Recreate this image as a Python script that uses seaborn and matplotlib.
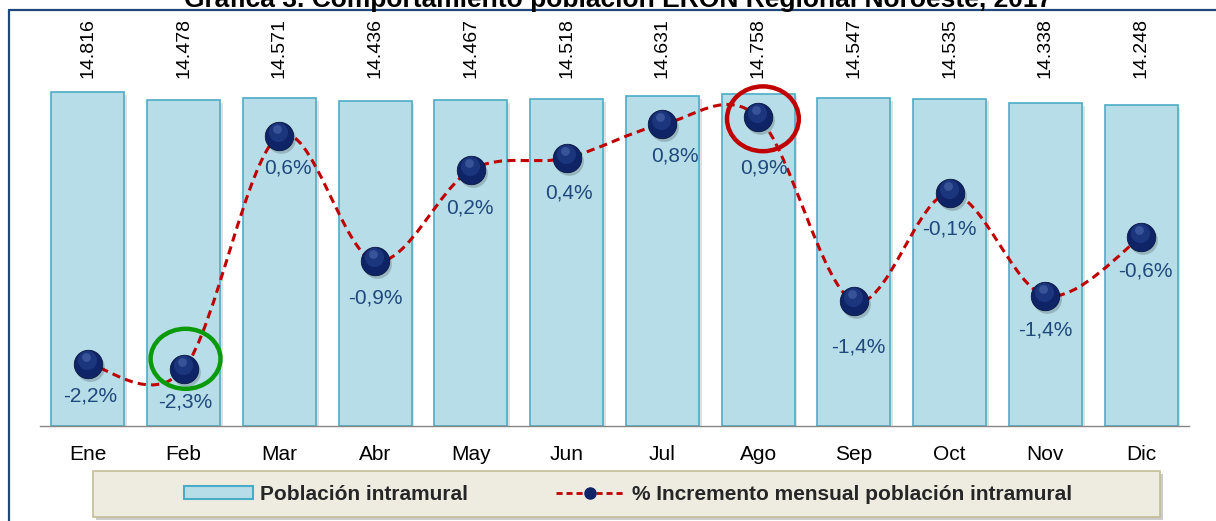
import numpy as np
import pandas as pd
import matplotlib
matplotlib.use("Agg")
import matplotlib.pyplot as plt
import seaborn as sns
from matplotlib.path import Path
from matplotlib.patches import PathPatch, Ellipse, Rectangle, Patch
from matplotlib.lines import Line2D
from matplotlib import transforms
import matplotlib.patheffects as pe

# ---------------- data ----------------
meses = ["Ene", "Feb", "Mar", "Abr", "May", "Jun", "Jul", "Ago", "Sep", "Oct", "Nov", "Dic"]
poblacion = [14816, 14478, 14571, 14436, 14467, 14518, 14631, 14758, 14547, 14535, 14338, 14248]
incremento = [-2.21, -2.28, 0.64, -0.93, 0.21, 0.36, 0.78, 0.87, -1.43, -0.08, -1.36, -0.63]
titulo = "Gráfica 3. Comportamiento población ERON Regional Noroeste, 2017"
leyenda_barras = "Población intramural"
leyenda_linea = "% Incremento mensual población intramural"

# ---------------- style ----------------
sns.set_theme(style="white")
plt.rcParams["font.family"] = ["Liberation Sans", "DejaVu Sans"]

W, H = 1216, 521
fig = plt.figure(figsize=(W / 100, H / 100), dpi=100)
fig.patch.set_facecolor("white")

ax_left, ax_right, ax_bottom, ax_top = 40, 1189, 426, 30
ax = fig.add_axes([ax_left / W, 1 - ax_bottom / H, (ax_right - ax_left) / W, (ax_bottom - ax_top) / H])

bar_face = "#B7DEE8"
bar_edge = "#4BACC6"
df = pd.DataFrame({"mes": meses, "pob": poblacion})
sns.barplot(data=df, x="mes", y="pob", color=bar_face, saturation=1, edgecolor=bar_edge,
            linewidth=1.2, width=0.76, ax=ax)
for p in ax.patches:
    p.set_path_effects([pe.SimplePatchShadow(offset=(2, -2), alpha=0.18, shadow_rgbFace="#555555"), pe.Normal()])

ax.set_xlim(-0.5, 11.5)
ax.set_ylim(0, 17580)
ax.set_xlabel("")
ax.set_ylabel("")
ax.set_yticks([])
for s in ["left", "right", "top"]:
    ax.spines[s].set_visible(False)
ax.spines["bottom"].set_color("#868686")
ax.spines["bottom"].set_linewidth(1.0)
ax.set_xticks(range(len(meses)))
ax.set_xticklabels(meses, fontsize=15, color="black")
ax.set_xticks(np.arange(-0.5, 12, 1.0), minor=True)
ax.tick_params(axis="x", which="major", length=0, pad=14)
ax.tick_params(axis="x", which="minor", length=5, width=1, color="#868686", direction="out")

# value labels at top (rotated)
blend = transforms.blended_transform_factory(ax.transData, fig.transFigure)
for i, v in enumerate(poblacion):
    ax.text(i, 1 - 78 / H, f"{v:,}".replace(",", "."), rotation=90, ha="center", va="bottom",
            fontsize=14, color="black", transform=blend)

# ---------------- secondary axis: line ----------------
ax2 = ax.twinx()
ax2.set_ylim(-2.99, 1.96)
ax2.set_yticks([])
for s in ["left", "right", "top", "bottom"]:
    ax2.spines[s].set_visible(False)
ax2.grid(False)
ax.grid(False)

xs = np.arange(len(incremento), dtype=float)
ys = np.array(incremento, dtype=float)
n = len(xs)
verts = [(xs[0], ys[0])]
codes = [Path.MOVETO]
for i in range(n - 1):
    i0 = max(i - 1, 0)
    i3 = min(i + 2, n - 1)
    c1 = (xs[i] + (xs[i + 1] - xs[i0]) / 6, ys[i] + (ys[i + 1] - ys[i0]) / 6)
    c2 = (xs[i + 1] - (xs[i3] - xs[i]) / 6, ys[i + 1] - (ys[i3] - ys[i]) / 6)
    verts += [c1, c2, (xs[i + 1], ys[i + 1])]
    codes += [Path.CURVE4] * 3
curve = PathPatch(Path(verts, codes), facecolor="none", edgecolor="#C00000", lw=2.2,
                  linestyle=(0, (2.7, 1.7)), zorder=3)
ax2.add_patch(curve)

navy = "#0F2466"
shadow_tr = transforms.offset_copy(ax2.transData, fig=fig, x=2, y=-3, units="dots")
ax2.scatter(xs, ys, s=430, color="#000000", alpha=0.18, linewidths=0, transform=shadow_tr, zorder=4)
sns.scatterplot(x=xs, y=ys, s=420, color=navy, edgecolor="#081640", linewidth=0.6, ax=ax2, zorder=5,
                legend=False)
hl1 = transforms.offset_copy(ax2.transData, fig=fig, x=-1, y=4, units="dots")
ax2.scatter(xs, ys, s=190, color="#2B4C9B", alpha=0.45, linewidths=0, transform=hl1, zorder=6)
hl2 = transforms.offset_copy(ax2.transData, fig=fig, x=-2, y=7, units="dots")
ax2.scatter(xs, ys, s=40, color="#6F8CCB", alpha=0.35, linewidths=0, transform=hl2, zorder=7)

# percentage labels
offsets = [(2, 32), (2, 33), (9, 32), (0, 37), (-1, 38), (2, 35), (13, 32), (6, 51), (4, 46), (0, 36), (0, 34), (4, 34)]
for i, v in enumerate(incremento):
    dx, dy = offsets[i]
    ax2.annotate(f"{v:.1f}".replace(".", ",") + "%", (xs[i], ys[i]), xytext=(dx, -dy),
                 textcoords="offset pixels", ha="center", va="center", fontsize=15,
                 color="#1F497D", zorder=8)

# highlight ellipses
ax2.add_patch(Ellipse((xs[1] + 0.02, ys[1] + 0.13), 0.73, 0.75, fill=False, edgecolor="#0A9A0A",
                      lw=3.2, zorder=9, clip_on=False))
ax2.add_patch(Ellipse((xs[7] + 0.05, ys[7] - 0.02), 0.75, 0.81, fill=False, edgecolor="#C00000",
                      lw=3.2, zorder=9, clip_on=False))

# ---------------- legend ----------------
lx0, lx1, ly0, ly1 = 93, 1160, 471, 517
fig.add_artist(Rectangle(((lx0 + 3) / W, 1 - (ly1 + 3) / H), (lx1 - lx0) / W, (ly1 - ly0) / H,
                         transform=fig.transFigure, facecolor="#9A9A9A", alpha=0.5, edgecolor="none"))
fig.add_artist(Rectangle((lx0 / W, 1 - ly1 / H), (lx1 - lx0) / W, (ly1 - ly0) / H,
                         transform=fig.transFigure, facecolor="#EEECE1", edgecolor="#C4BD97", lw=1.2))
handles = [
    Patch(facecolor=bar_face, edgecolor=bar_edge, lw=1.5, label=leyenda_barras),
    Line2D([], [], color="#C00000", lw=2, linestyle=(0, (2.2, 1.4)), marker="o", markersize=8,
           markerfacecolor=navy, markeredgecolor=navy, label=leyenda_linea),
]
leg = fig.legend(handles=handles, loc="center", bbox_to_anchor=(628 / W, 1 - 494 / H), ncol=2,
                 frameon=False, prop={"weight": "bold", "size": 15}, handlelength=3.3,
                 handleheight=0.6, handletextpad=0.35, columnspacing=4.2)

# ---------------- frame and title ----------------
border = "#1F497D"
fig.add_artist(Line2D([9 / W, 1.0], [1 - 10 / H, 1 - 10 / H], transform=fig.transFigure, color=border, lw=1.6))
fig.add_artist(Line2D([9 / W, 9 / W], [0, 1 - 10 / H], transform=fig.transFigure, color=border, lw=1.6))
fig.text(618 / W, 1 - 7 / H, titulo, ha="center", va="baseline", fontsize=19, weight="bold", color="black")

fig.savefig("out.png", dpi=100)
